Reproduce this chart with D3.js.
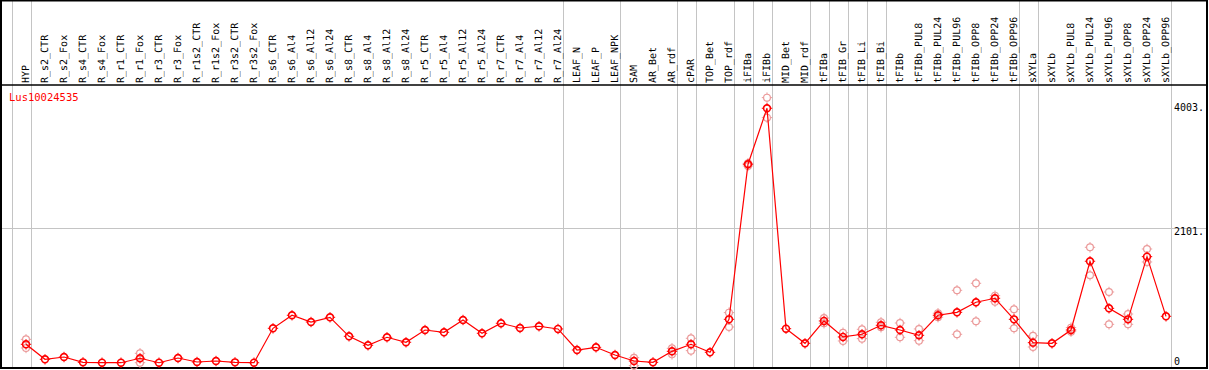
<!DOCTYPE html>
<html>
<head>
<meta charset="utf-8">
<script src="https://cdn.jsdelivr.net/npm/d3@7"></script>
<style>
  body { margin: 0; background: #fff; }
  svg { display: block; }
  text { font-family: 'DejaVu Sans Mono', monospace; }
</style>
</head>
<body>
<div id="chart"></div>
<script>
// Expression profile of one gene across tissues: mean line plus replicate circles.

const geneName = 'Lus10024535';

const categories = [
  'HYP', 'R_s2_CTR', 'R_s2_Fox', 'R_s4_CTR', 'R_s4_Fox', 'R_r1_CTR', 'R_r1_Fox',
  'R_r3_CTR', 'R_r3_Fox', 'R_r1s2_CTR', 'R_r1s2_Fox', 'R_r3s2_CTR', 'R_r3s2_Fox',
  'R_s6_CTR', 'R_s6_Al4', 'R_s6_Al12', 'R_s6_Al24', 'R_s8_CTR', 'R_s8_Al4',
  'R_s8_Al12', 'R_s8_Al24', 'R_r5_CTR', 'R_r5_Al4', 'R_r5_Al12', 'R_r5_Al24',
  'R_r7_CTR', 'R_r7_Al4', 'R_r7_Al12', 'R_r7_Al24', 'LEAF_N', 'LEAF_P', 'LEAF_NPK',
  'SAM', 'AR_Bet', 'AR_rdf', 'cPAR', 'TOP_Bet', 'TOP_rdf', 'iFIBa', 'iFIBb',
  'MID_Bet', 'MID_rdf', 'tFIBa', 'tFIB_Gr', 'tFIB_Li', 'tFIB_Bi', 'tFIBb',
  'tFIBb_PUL8', 'tFIBb_PUL24', 'tFIBb_PUL96', 'tFIBb_OPP8', 'tFIBb_OPP24', 'tFIBb_OPP96',
  'sXYLa', 'sXYLb', 'sXYLb_PUL8', 'sXYLb_PUL24', 'sXYLb_PUL96', 'sXYLb_OPP8',
  'sXYLb_OPP24', 'sXYLb_OPP96'
];

const means = [
  331, 102, 137, 56, 50, 50, 118, 50, 122, 61, 76, 56, 50,
  575, 774, 671, 743, 453, 316, 438, 362, 549, 514, 702, 499, 652, 580, 606, 565,
  244, 285, 168, 76, 56, 224, 331, 209, 712, 3078, 3932,
  569, 346, 687, 443, 484, 621, 549, 468, 774, 819, 972, 1033, 712,
  356, 346, 549, 1598, 880, 712, 1668, 758
];

// replicate values per category (empty where they sit under the mean)
const replicates = [
  [407, 275], [], [], [], [], [], [194, 50], [], [], [], [], [], [],
  [], [], [], [], [], [], [], [], [], [], [], [], [], [], [], [],
  [], [], [], [127, 5], [], [270, 178], [423, 234], [], [814, 595], [3093, 3052], [4094, 3789],
  [], [], [732, 652], [508, 382], [560, 417], [667, 590], [656, 438], [565, 386], [805, 745],
  [1155, 484], [1262, 682], [1073, 981], [865, 575],
  [462, 290], [], [585, 524], [1811, 1384], [1129, 636], [793, 636], [1785, 1587], []
];

// last category of each group, a vertical rule follows it
const groupEnds = [
  'HYP', 'R_r7_Al24', 'LEAF_NPK', 'AR_rdf', 'cPAR', 'TOP_rdf', 'iFIBa', 'iFIBb',
  'MID_rdf', 'tFIBa', 'tFIB_Gr', 'tFIB_Li', 'tFIB_Bi', 'tFIBb_OPP96', 'sXYLa', 'sXYLb_OPP96'
];

const yTicks = [0, 2101, 4003];

const width = 1209;
const height = 370;
const headerY = 85;
const bottomY = 368;
const rightX = 1207;
const red = '#ff0000';
const pink = '#eb9a9a';
const grid = '#c4c4c4';

const svg = d3.select('#chart')
  .append('svg')
  .attr('width', width)
  .attr('height', height);

const x = d3.scalePoint().domain(categories).range([26, 1166]);
const step = x.step();
const y = d3.scaleLinear().domain([0, 4003]).range([366, 103.6]);

// vertical group rules
const ruleX = [x(categories[0]) - step + 4.5].concat(groupEnds.map((c) => x(c) + 4.5));
svg.append('g')
  .selectAll('line')
  .data(ruleX)
  .join('line')
  .attr('x1', (d) => Math.round(d) + 0.5)
  .attr('x2', (d) => Math.round(d) + 0.5)
  .attr('y1', 0)
  .attr('y2', bottomY)
  .attr('stroke', grid)
  .attr('stroke-width', 1);

// horizontal gridline at the middle tick
svg.append('line')
  .attr('x1', 1)
  .attr('x2', rightX)
  .attr('y1', Math.round(y(yTicks[1])) + 0.5)
  .attr('y2', Math.round(y(yTicks[1])) + 0.5)
  .attr('stroke', grid);

// frame
svg.append('rect')
  .attr('x', 1)
  .attr('y', 0.5)
  .attr('width', rightX - 1)
  .attr('height', bottomY - 0.5)
  .attr('fill', 'none')
  .attr('stroke', '#000')
  .attr('stroke-width', 2);

svg.append('line')
  .attr('x1', 1)
  .attr('x2', rightX)
  .attr('y1', headerY)
  .attr('y2', headerY)
  .attr('stroke', '#000')
  .attr('stroke-width', 1.5);

// column labels
svg.append('g')
  .selectAll('text')
  .data(categories)
  .join('text')
  .attr('transform', (d) => `translate(${x(d) + 3},83) rotate(-90)`)
  .attr('font-size', 10)
  .attr('fill', '#000')
  .attr('text-rendering', 'geometricPrecision')
  .text((d) => d);

// value labels on the right
svg.append('g')
  .selectAll('text')
  .data(yTicks)
  .join('text')
  .attr('x', 1174)
  .attr('y', (d) => Math.min(y(d), 357.7) + 7)
  .attr('font-size', 10)
  .attr('fill', '#000')
  .text((d) => (d === 0 ? '0' : `${d}.`));

svg.append('text')
  .attr('x', 9)
  .attr('y', 100.5)
  .attr('font-size', 10.5)
  .attr('fill', red)
  .text(geneName);

function marker(g, cx, cy, colour, sw) {
  const r = 3.4;
  g.append('circle')
    .attr('cx', cx)
    .attr('cy', cy)
    .attr('r', r)
    .attr('fill', 'none')
    .attr('stroke', colour)
    .attr('stroke-width', sw);
  [[0, -1], [0, 1], [-1, 0], [1, 0]].forEach(([dx, dy]) => {
    g.append('line')
      .attr('x1', cx + dx * r)
      .attr('x2', cx + dx * (r + 1.8))
      .attr('y1', cy + dy * r)
      .attr('y2', cy + dy * (r + 1.8))
      .attr('stroke', colour)
      .attr('stroke-width', 1);
  });
}

const repLayer = svg.append('g');
categories.forEach((c, i) => {
  replicates[i].forEach((v) => marker(repLayer, x(c), y(v), pink, 1.2));
});

svg.append('path')
  .datum(means)
  .attr('fill', 'none')
  .attr('stroke', red)
  .attr('stroke-width', 1.2)
  .attr('d', d3.line().x((d, i) => x(categories[i])).y((d) => y(d)));

const meanLayer = svg.append('g');
categories.forEach((c, i) => marker(meanLayer, x(c), y(means[i]), red, 1.6));
</script>
</body>
</html>
